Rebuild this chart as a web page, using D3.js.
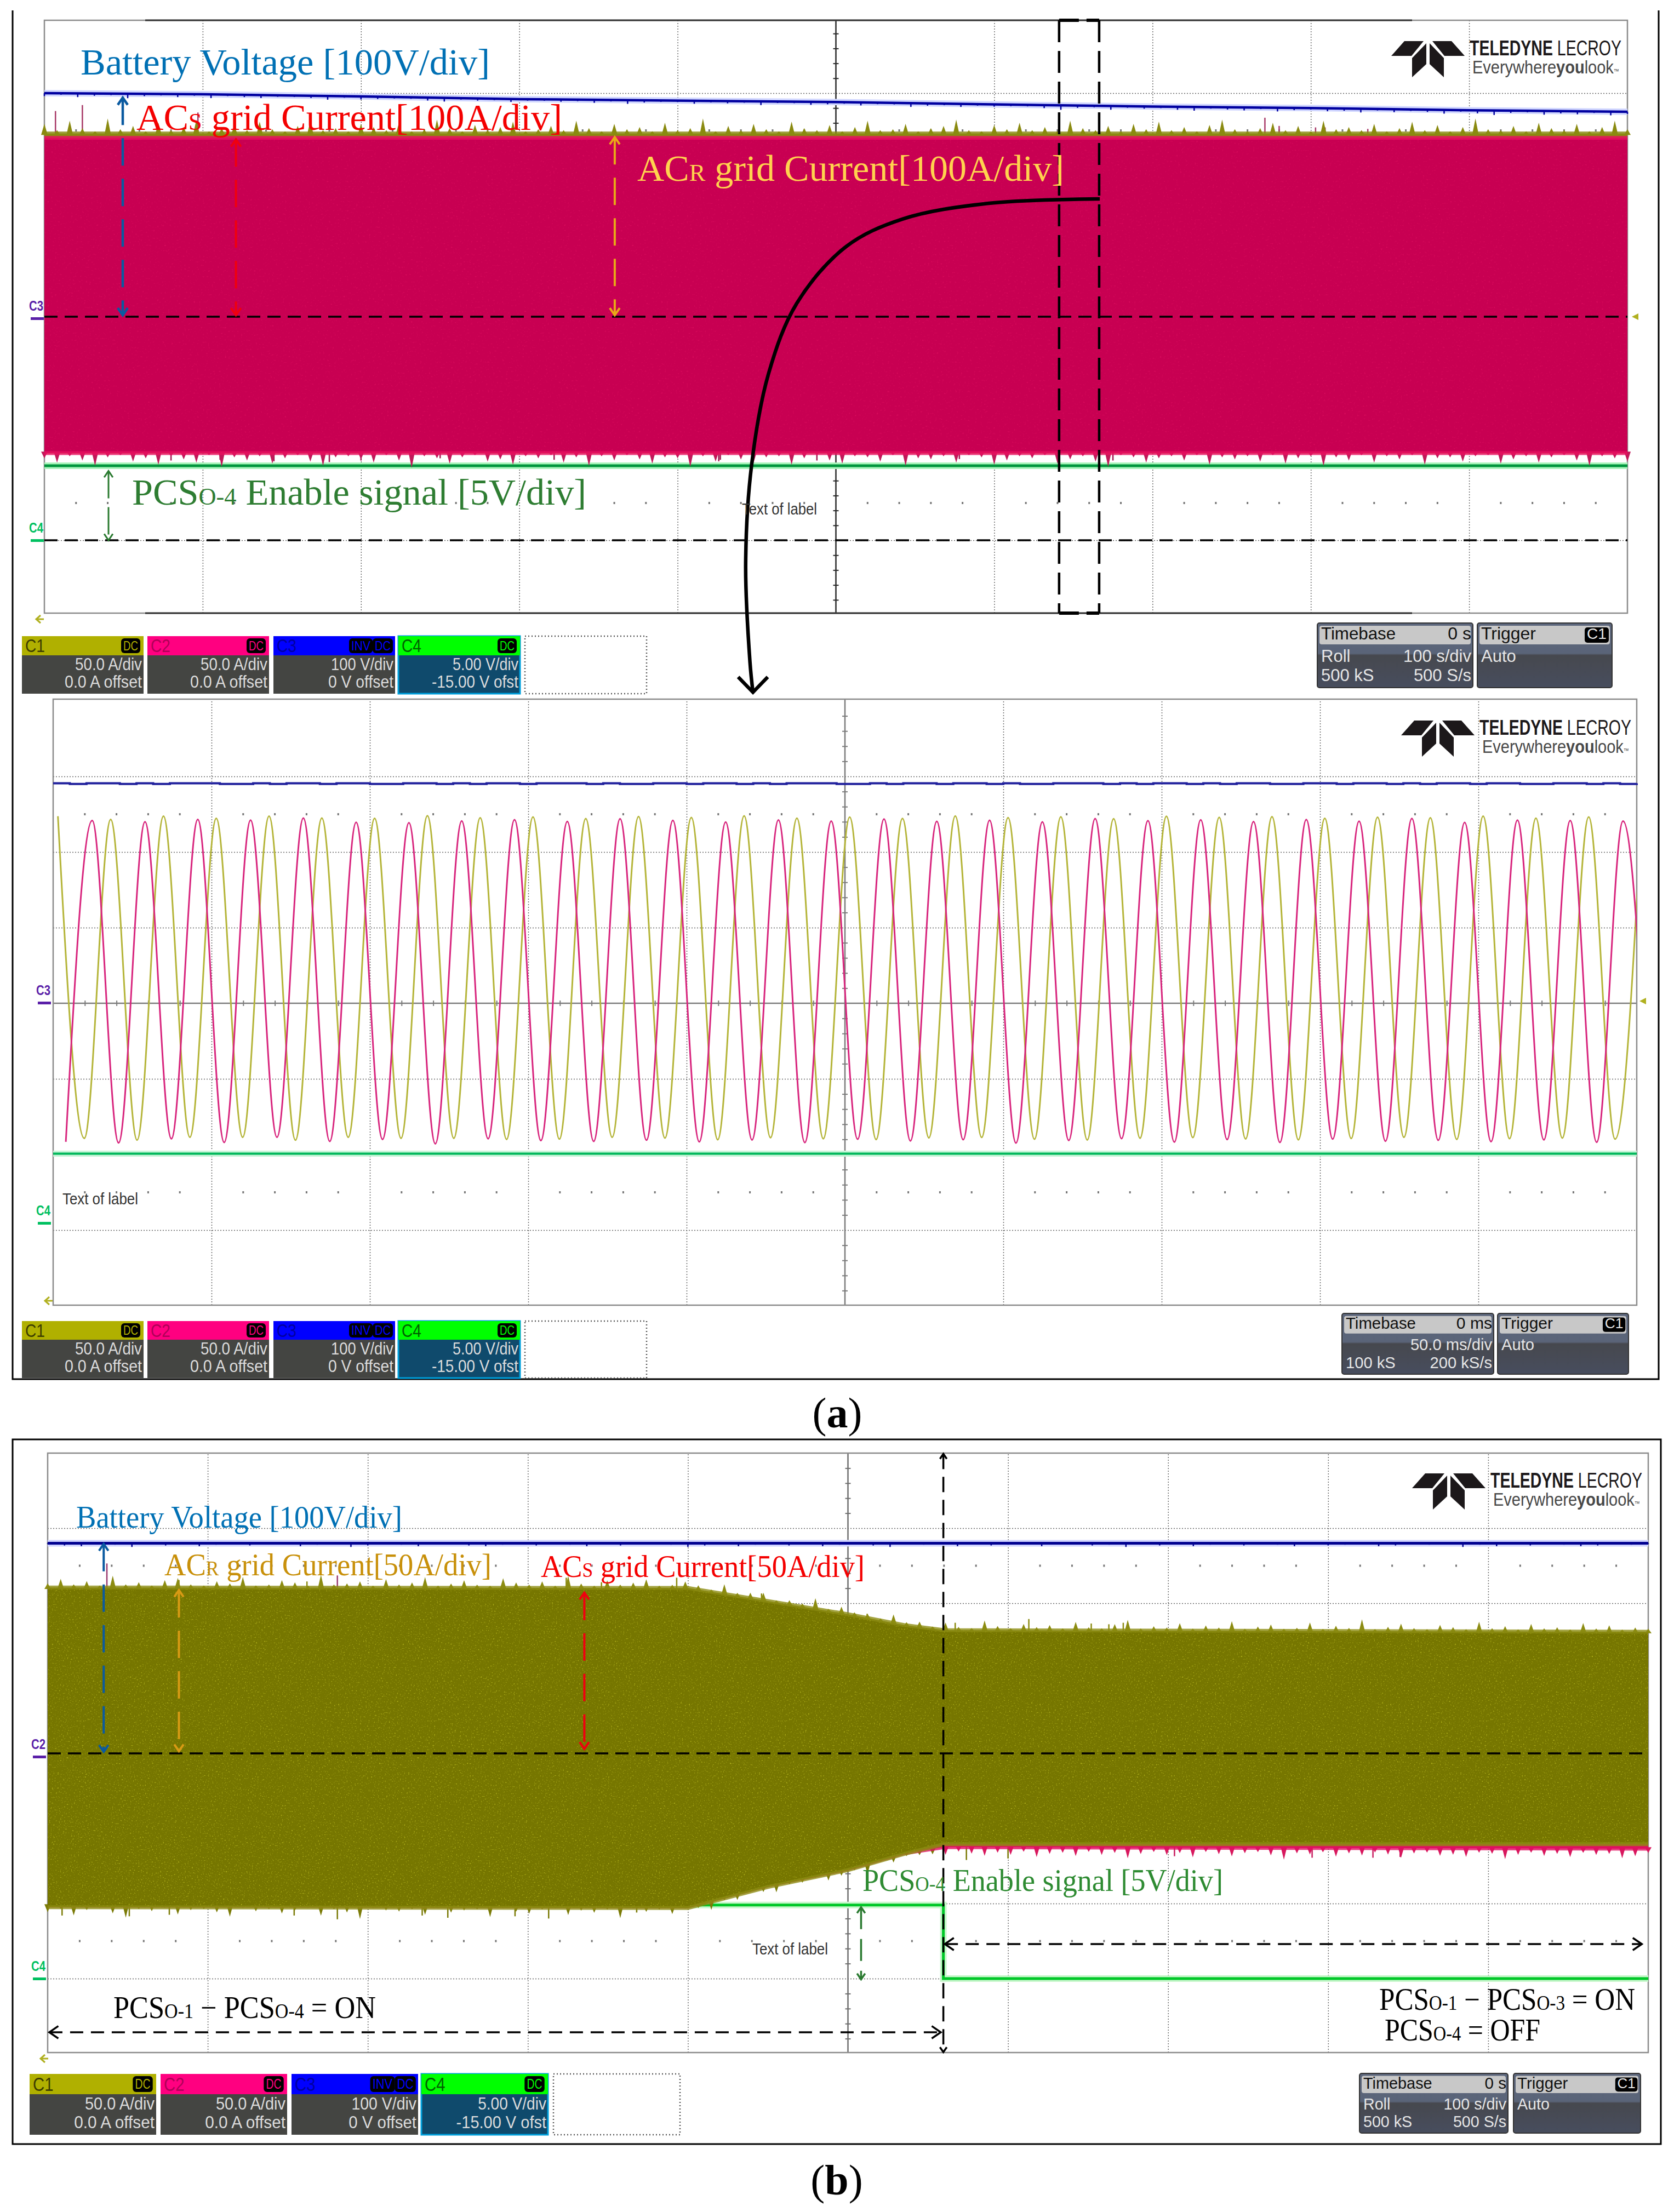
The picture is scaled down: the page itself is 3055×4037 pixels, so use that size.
<!DOCTYPE html>
<html lang="en">
<head>
<meta charset="UTF-8">
<title>Scope captures</title>
<script src="https://d3js.org/d3.v7.min.js"></script>
<style>
  html, body { margin: 0; padding: 0; background: #fff; }
  svg { display: block; }
  .grid line { stroke: #666; stroke-width: 1.5; stroke-dasharray: 2 3; }
  .grid path { display: none; }
</style>
</head>
<body>
<svg id="chart" width="3055" height="4037">
  <defs>
    <filter id="speckOlive" x="0" y="0" width="100%" height="100%" color-interpolation-filters="sRGB">
      <feTurbulence type="fractalNoise" baseFrequency="0.4" numOctaves="2" seed="3" result="n"/>
      <feColorMatrix in="n" type="matrix" values="0 0 0 0 0.68  0 0 0 0 0.68  0 0 0 0 0.1  5 0 0 0 -3.1" result="s"/>
      <feComposite in="s" in2="SourceAlpha" operator="in" result="c"/>
      <feMerge><feMergeNode in="SourceGraphic"/><feMergeNode in="c"/></feMerge>
    </filter>
    <filter id="speckPink" x="0" y="0" width="100%" height="100%" color-interpolation-filters="sRGB">
      <feTurbulence type="fractalNoise" baseFrequency="0.3" numOctaves="2" seed="5" result="n"/>
      <feColorMatrix in="n" type="matrix" values="0 0 0 0 0.88  0 0 0 0 0.06  0 0 0 0 0.38  3 0 0 0 -1.9" result="s"/>
      <feComposite in="s" in2="SourceAlpha" operator="in" result="c"/>
      <feMerge><feMergeNode in="SourceGraphic"/><feMergeNode in="c"/></feMerge>
    </filter>
  </defs>
</svg>
<script>

// (a) top capture, roll mode 100 s/div
const a1BatteryT = [-5, -4, -3, -2, 0, 1.29, 2, 3, 4, 5];
const a1BatteryLevel = [3.0, 2.985, 2.956, 2.92, 2.88, 2.84, 2.82, 2.8, 2.77, 2.75];
const a1EnvT = [-5, 5];
const a1C1High = [2.46, 2.46];
const a1C1Low = [-1.81, -1.81];
const a1C2High = [2.4, 2.4];
const a1C2Low = [-1.83, -1.83];
const a1EnableLevel = -2.0;
const a1TopSpikeT = [-4.93, -4.76, -4.03, 2.71, 2.8, 3.03, 3.09, 3.36];
const a1TopSpikeLevel = [2.76, 2.84, 2.74, 2.67, 2.56, 2.54, 2.54, 2.52];
const a1LowSpikeT = [-4.2, -3.89, -3.55, -3.2, -3, -2.5, -1.78, -0.74, -0.73, -0.12, 0.28, 0.78, 1.75];
const a1LowSpikeLevel = [-1.93, -1.92, -1.94, -1.95, -1.93, -1.9, -1.92, -1.94, -1.92, -1.93, -1.92, -1.91, -1.93];

// grass on the trace edges, hundredths of a division, evenly spaced across the screen
const a1GrassTop = [9,3,12,5,2,14,4,7,2,10,3,6,13,2,5,8,3,11,4,2,7,12,3,5,2,9,6,3,10,2,4,13,5,2,8,3,6,11,2,4,7,3,12,5,2,9,4,6,2,10,3,5,14,2,7,3,9,4,2,11,5,3,8,2,6,12,3,4,9,2,5,7,13,3,2,8,4,10,3,6,2,12,5,3,7,2,9,4,11,3,6,2,8,13,4,2,5,10,3,7,2,12,4,6,3,9,2,5,11,3,8,2,6,14,4,3,7,2,10,5,3,9,2,6,12,4];
const a1GrassLow = [5,9,3,7,12,4,2,8,5,11,3,6,9,2,13,4,7,3,10,5,2,8,12,4,3,6,9,2,7,14,3,5,10,4,2,8,6,11,3,5,2,9,4,12,3,7,2,6,10,4,5,13,3,8,2,6,9,4,3,11,5,2,7,10,3,4,8,2,12,5,6,3,9,2,4,11,7,3,5,2,10,6,3,8,13,2,4,9,5,3,7,2,11,4,6,3,8,2,10,5,3,12,4,7,2,9,3,6,2,11,5,4,8,3,2,10,6,3,9,4,2,7,12,3,5,8];
const a1BatteryNoise = [2,0,3,1,0,4,1,0,2,0,3,0,1,2,0,0,1,3,0,2,1,0,0,2,3,0,1,0,2,0,0,1,0,2,0,3,1,0,0,2,0,1,0,3,0,0,2,1,0,2,0,0,3,1,0,2,0,1,0,0,2,4,1,0,3,0,1,0,2,3,0,1,2,0,3,1,0,2,1,3,0,2,0,1,3,0,2,4,1,0,3,1,2,0,3,1];

// (a) zoomed capture, 50 ms/div. alternating extremes in A, half a mains cycle apart
const a2HalfCycleMs = 25 / 3;
const a2C1StartMs = -248.5;
const a2C2StartMs = -246;
const a2C1Levels = [123.7,-89.3,121.6,-90.5,123.7,-88.6,122.3,-88.6,123.7,-90.5,122.5,-88.6,122.3,-89.3,124,-89.3,122.6,-90,123.2,-89.8,122.1,-88.6,123.5,-89.1,122.8,-90.2,123.9,-88.9,122.4,-89.6,123.1,-90.1,122.2,-89,123.8,-88.7,122.7,-89.9,123.3,-90.4,122,-89.2,123.6,-88.8,122.9,-89.7,123.4,-90.3,122.3,-89.4,123,-88.6,122.6,-90,123.7,-89.5,122.4,-89.1,123.2,-89.8,122.8];
const a2C2Levels = [-91.6,120.8,-92.3,120,-89.6,121.6,-92,121.1,-88.6,122.5,-91.3,119.7,-90,119.4,-92.9,120.6,-89.6,121.4,-90.8,120.2,-91.3,122,-90.5,120.9,-91.6,119.8,-90.4,121.2,-92.1,120.5,-89.9,121.8,-91,120.3,-90.2,121,-92.4,119.9,-90.7,122.1,-89.5,120.7,-91.8,121.3,-90.1,120.1,-92,121.5,-89.8,120.4,-91.2,122.2,-90.6,119.6,-91.5,121.1,-90.3,120.8,-91.9,120.5,-90.6];
const a2Battery = [291,290,291,291,290,291,290,291,291,291,290,290,291,290,291,291,290,291,291,290,290,291,291,290,291,290,291,291,290,291,291,291,290,291,290,290,291,291,290,291,291,290,291,290,291,291,291,290,290,291,290,291,291,290,291,291,290,291,290,290,291,291,291,290,291,290,291,291,290,291,290,291,291,290,290,291,291,290,291,291,290,291,290,291,291,290,291,291,290,290,291,291,290,291,290,291];
const a2EnableLevel = -1.99;

// (b) capture, roll mode 100 s/div, the module drops out after t = 0.6
const bEnvT = [-5, -1, -0.5, 0, 0.35, 0.6, 5];
const bC1High = [2.21, 2.204, 2.03, 1.854, 1.71, 1.642, 1.62];
const bC1Low = [-2.05, -2.06, -1.78, -1.555, -1.34, -1.21, -1.21];
const bC2High = [2.18, 2.17, 2, 1.82, 1.68, 1.6, 1.58];
const bC2Low = [-2.03, -2.04, -1.76, -1.54, -1.33, -1.25, -1.27];
const bBatteryLevel = 2.8;
const bEnableT = [-1.03, 0.596, 0.596, 5];
const bEnableLevel = [-2.02, -2.02, -3.0, -3.0];
const bTopSpikeT = [-4.63, -3.19, -4.18, -3.38, -1.76, -1.54, -1.07, -0.54, 0.12, 0.67, 1.13, 1.52, 1.63, 1.72];
const bTopSpikeLevel = [2.53, 2.37, 2.31, 2.29, 2.34, 2.28, 2.34, 2.13, 1.86, 1.74, 1.79, 1.73, 1.72, 1.74];
const bLowSpikeT = [-4.91, -4.49, -4.24, -3.46, -3.19, -2.66, -2.5, -2.08, -1.87, -1.32, 0.74, 1.0, 2.04, 2.9, 3.28, 3.45];
const bLowSpikeLevel = [-2.16, -2.17, -2.15, -2.16, -2.21, -2.16, -2.19, -2.17, -2.2, -2.12, -1.42, -1.4, -1.37, -1.39, -1.39, -1.38];
const bGrassTop = [4,8,3,6,2,11,3,5,2,7,9,3,2,6,4,10,2,3,7,5,2,12,3,4,6,2,8,3,5,10,2,4,7,3,2,9,5,3,6,2,11,4,2,7,3,5,8,2,3,6,4,2,9,3,5,7,2,4,3,10,2,6,3,4,2,8,3,5,2,7,3,2,9,4,2,6,3,5,2,8,3,2,6,10,2,4,3,7,2,5,3,9,2,4,6,2,3,8,2,5,3,11,2,4,7,3,2,6,4,2,9,3,5,2,7,3,4,2,8,3,6,2,4,3];
const bGrassLow = [6,3,9,4,2,7,11,3,5,2,8,4,3,6,10,2,5,3,7,4,2,9,3,6,12,2,4,5,3,8,2,6,4,3,10,2,5,7,3,2,8,4,6,3,11,2,5,3,7,2,4,9,3,6,2,5,8,3,4,2,7,5,3,10,2,6,3,4,5,7,4,6,8,5,7,4,9,6,5,8,4,7,5,10,6,4,7,5,9,4,6,8,5,4,7,11,5,6,4,8,5,7,4,6,9,5,4,7,6,8,4,5,10,6,4,7,5,8,4,6,5,9,7,4];
const bBatteryNoise = [0,2,3,0,1,4,0,2,0,3,1,0,2,0,0,3,1,0,4,2,0,1,3,0,0,2,3,1,0,2,0,1,3,0,2,0,0,1,4,2,0,3,1,0,2,0,3,1,0,2,4,0,1,0,3,0,2,1,0,3,0,0,2,1,4,0,2,0,3,1,0,2,0,1,3,0,2,1,0,3,2,0,1,0,4,1,3,0,2,0,1,3,2,0,1,0];

// instrument read-outs
const chanNames = ['C1', 'C2', 'C3', 'C4'];
const chanColors = ['#b0b000', '#ff0080', '#0000ff', '#00ff00'];
const chanInk = ['#3c3c00', '#b00058', '#0000a0', '#006000'];
const chanLine1 = ['50.0 A/div', '50.0 A/div', '100 V/div', '5.00 V/div'];
const chanLine2 = ['0.0 A offset', '0.0 A offset', '0 V offset', '-15.00 V ofst'];

// ---- layout ----
const svg = d3.select('#chart');
const scopeA1 = { left: 81, right: 2970, top: 37, bottom: 1119, cy: 578, div: 136 };
const scopeA2 = { left: 97, right: 2987, top: 1276, bottom: 2382, cy: 1831, div: 138 };
const scopeB = { left: 87, right: 3008, top: 2652, bottom: 3746, cy: 3200, div: 137 };
const olive = '#767600', oliveEdge = '#8c8c12', pink = '#c80052', pinkEdge = '#e81060';
const serif = '"Liberation Serif", serif', sans = '"Liberation Sans", sans-serif';

function txt(g, x, y, parts, o) {
  const t = g.append('text').attr('x', x).attr('y', y)
    .attr('font-family', o.font || sans).attr('font-size', o.size)
    .attr('fill', o.fill || '#000').attr('text-anchor', o.anchor || 'start');
  if (o.bold) t.attr('font-weight', 'bold');
  if (o.width) t.attr('textLength', o.width).attr('lengthAdjust', 'spacingAndGlyphs');
  [].concat(parts).forEach(p => {
    if (typeof p === 'string') t.append('tspan').text(p);
    else {
      const sp = t.append('tspan').text(p[0]);
      if (p[1]) sp.attr('font-size', o.size * p[1]);
      if (p[2]) sp.attr('font-weight', p[2]);
    }
  });
  return t;
}

function arrow(g, a, b, o) {
  const w = o.w || 4, h = o.head || 14;
  g.append('line').attr('x1', a[0]).attr('y1', a[1]).attr('x2', b[0]).attr('y2', b[1])
    .attr('stroke', o.color).attr('stroke-width', w).attr('stroke-dasharray', o.dash || null);
  const ang = Math.atan2(b[1] - a[1], b[0] - a[0]);
  const head = (p, d) => {
    const v = s => [p[0] - h * Math.cos(d + s), p[1] - h * Math.sin(d + s)];
    g.append('path').attr('d', d3.line()([v(0.6), p, v(-0.6)]))
      .attr('fill', 'none').attr('stroke', o.color).attr('stroke-width', w);
  };
  if (o.start !== false) head(a, ang + Math.PI);
  if (o.end !== false) head(b, ang);
}

function drawScope(p, o) {
  const x = d3.scaleLinear().domain([-5, 5]).range([p.left, p.right]);
  const y = d3.scaleLinear().domain([0, 1]).range([p.cy, p.cy - p.div]);
  const g = svg.append('g');
  const w = p.right - p.left, h = p.bottom - p.top;
  g.append('g').attr('class', 'grid').attr('transform', `translate(0,${p.bottom})`)
    .call(d3.axisBottom(x).tickValues(d3.range(-4, 5).filter(d => d !== 0)).tickSize(-h).tickFormat(''));
  g.append('g').attr('class', 'grid').attr('transform', `translate(${p.left},0)`)
    .call(d3.axisLeft(y).tickValues([-3, -2, -1, 1, 2, 3]).tickSize(-w).tickFormat(''));
  // small graticule dots half way to the outer lines
  const dots = d3.range(-4.8, 5, 0.2).filter(d => Math.abs(d - Math.round(d)) > 0.05);
  [2.5, -2.5].forEach(level => {
    g.append('g').selectAll('rect').data(dots).join('rect')
      .attr('x', d => x(d) - 1.5).attr('y', y(level) - 2).attr('width', 3).attr('height', 4).attr('fill', '#777');
  });
  // centre cross with ticks
  const cHor = g.append('g').attr('transform', `translate(0,${p.cy - 5})`)
    .call(d3.axisBottom(x).tickValues(dots).tickSize(10).tickFormat(''));
  const cVer = g.append('g').attr('transform', `translate(${x(0) - 5},0)`)
    .call(d3.axisRight(y).tickValues(d3.range(-3.8, 4, 0.2).filter(d => Math.abs(d - Math.round(d)) > 0.05)).tickSize(10).tickFormat(''));
  [cHor, cVer].forEach(a => { a.select('.domain').remove(); a.selectAll('line').attr('stroke', o.cross).attr('stroke-width', 2); });
  g.append('line').attr('x1', p.left).attr('x2', p.right).attr('y1', p.cy).attr('y2', p.cy).attr('stroke', o.cross).attr('stroke-width', 2.5);
  g.append('line').attr('x1', x(0)).attr('x2', x(0)).attr('y1', p.top).attr('y2', p.bottom).attr('stroke', o.cross).attr('stroke-width', 2.5);
  g.append('rect').attr('x', p.left).attr('y', p.top).attr('width', w).attr('height', h)
    .attr('fill', 'none').attr('stroke', '#8c8c8c').attr('stroke-width', 2.5);
  if (o.darkFrom) {
    [p.top, p.bottom].forEach(yy => g.append('line').attr('x1', o.darkFrom).attr('x2', o.darkTo)
      .attr('y1', yy).attr('y2', yy).attr('stroke', '#333').attr('stroke-width', 3));
  }
  return { x, y, g };
}

function envelope(s, ts, hi, lo, fill, edge, filter) {
  const area = d3.area().x(d => s.x(d[0])).y1(d => s.y(d[1])).y0(d => s.y(d[2]));
  s.g.append('path').datum(ts.map((t, i) => [t, hi[i], lo[i]])).attr('d', area)
    .attr('fill', fill).attr('filter', filter ? `url(#${filter})` : null);
  const line = d3.line().x(d => s.x(d[0])).y(d => s.y(d[1]));
  [hi, lo].forEach(level => {
    s.g.append('path').attr('d', line(ts.map((t, i) => [t, level[i]]))).attr('fill', 'none')
      .attr('stroke', edge).attr('stroke-width', 7).attr('opacity', 0.8);
  });
}

// each value is one small blade standing on the trace edge
function grass(s, ts, base, list, sign, color) {
  const at = d3.scalePoint().domain(d3.range(list.length)).range([-5, 5]);
  const level = d3.scaleLinear().domain(ts).range(base);
  s.g.append('g').selectAll('path').data(list).join('path')
    .attr('d', (d, i) => {
      const t = at(i), px = s.x(t), b = s.y(level(t) - sign * 0.02), tip = s.y(level(t) + sign * d / 70);
      return d3.line()([[px - 6, b], [px, tip], [px + 6, b]]) + 'Z';
    })
    .attr('fill', (d, i) => typeof color === 'function' ? color(at(i)) : color);
}

function spikes(s, ts, base, sT, sLevel, color) {
  const level = d3.scaleLinear().domain(ts).range(base);
  s.g.append('g').selectAll('line').data(sT).join('line')
    .attr('x1', d => s.x(d)).attr('x2', d => s.x(d))
    .attr('y1', d => s.y(level(d))).attr('y2', (d, i) => s.y(sLevel[i]))
    .attr('stroke', typeof color === 'string' ? color : (d => color(d))).attr('stroke-width', 2.5);
}

function trace(s, points, curve, color, width, halo) {
  const line = d3.line().x(d => s.x(d[0])).y(d => s.y(d[1])).curve(curve);
  if (halo) s.g.append('path').attr('d', line(points)).attr('fill', 'none').attr('stroke', halo).attr('stroke-width', width + 7);
  s.g.append('path').attr('d', line(points)).attr('fill', 'none').attr('stroke', color).attr('stroke-width', width);
}

function channelBoxes(xs, w, top, headH, h) {
  const g = svg.append('g');
  const k = w / 222;
  chanNames.forEach((name, i) => {
    const bx = xs[i];
    const isActive = i === 3;
    g.append('rect').attr('x', bx).attr('y', top).attr('width', w).attr('height', h)
      .attr('fill', isActive ? '#0f4a6c' : '#444542');
    if (isActive) g.append('rect').attr('x', bx).attr('y', top).attr('width', w).attr('height', h)
      .attr('fill', 'none').attr('stroke', '#00a0dc').attr('stroke-width', 3);
    g.append('rect').attr('x', bx).attr('y', top).attr('width', w).attr('height', headH).attr('fill', chanColors[i]);
    txt(g, bx + 6, top + headH * 0.84, name, { size: 34 * k, fill: chanInk[i], width: 36 * k });
    const badges = i === 2 ? [['INV', 84, 43], ['DC', 41, 37]] : [['DC', 41, 35]];
    badges.forEach(b => {
      g.append('rect').attr('x', bx + w - b[1] * k).attr('y', top + 4).attr('width', b[2] * k).attr('height', headH - 8)
        .attr('rx', 6).attr('fill', '#000');
      txt(g, bx + w - (b[1] - b[2] / 2) * k, top + headH * 0.74, b[0], { size: 24 * k, fill: chanColors[i], anchor: 'middle', width: (b[2] - 8) * k });
    });
    txt(g, bx + w - 3, top + h * 0.59, chanLine1[i], { size: 31 * k, fill: '#dcdcdc', anchor: 'end', width: [122, 122, 114, 120][i] * k });
    txt(g, bx + w - 3, top + h * 0.895, chanLine2[i], { size: 31 * k, fill: '#dcdcdc', anchor: 'end', width: [141, 141, 119, 158][i] * k });
  });
  // empty slot
  g.append('rect').attr('x', xs[4]).attr('y', top).attr('width', w).attr('height', h)
    .attr('fill', 'none').attr('stroke', '#555').attr('stroke-width', 2.5).attr('stroke-dasharray', '2 4');
}

let boxId = 0;
function timebaseBoxes(x0, tw, x1, trw, top, h, rows) {
  const g = svg.append('g');
  const k = h / 118;
  const id = 'tb' + (boxId++);
  const grad = svg.append('linearGradient').attr('id', id).attr('x1', 0).attr('x2', 0).attr('y1', 0).attr('y2', 1);
  [[0, '#5c667c'], [0.47, '#5a6478'], [0.5, '#46484e'], [1, '#474d5e']].forEach(s => grad.append('stop').attr('offset', s[0]).attr('stop-color', s[1]));
  [[x0, tw], [x1, trw]].forEach(b => {
    g.append('rect').attr('x', b[0]).attr('y', top).attr('width', b[1]).attr('height', h).attr('rx', 4).attr('fill', `url(#${id})`).attr('stroke', '#333').attr('stroke-width', 2);
    g.append('rect').attr('x', b[0] + 4).attr('y', top + 5 * k).attr('width', b[1] - 8).attr('height', 34 * k).attr('rx', 4).attr('fill', '#c8c8c8');
  });
  const hy = top + 30 * k, r1 = top + 71 * k, r2 = top + 106 * k, o = { size: 31 * k, fill: '#e6e6e6' };
  txt(g, x0 + 7, hy, 'Timebase', { size: 32 * k, fill: '#111', width: 136 * k });
  txt(g, x0 + tw - 3, hy, rows[0], { size: 32 * k, fill: '#111', anchor: 'end' });
  txt(g, x0 + 7, r1, rows[1], o);
  txt(g, x0 + tw - 3, r1, rows[2], { ...o, anchor: 'end' });
  txt(g, x0 + 7, r2, rows[3], o);
  txt(g, x0 + tw - 3, r2, rows[4], { ...o, anchor: 'end' });
  txt(g, x1 + 7, hy, 'Trigger', { size: 32 * k, fill: '#111', width: 100 * k });
  g.append('rect').attr('x', x1 + trw - 50 * k).attr('y', top + 8 * k).attr('width', 44 * k).attr('height', 28 * k).attr('rx', 5).attr('fill', '#000');
  txt(g, x1 + trw - 28 * k, hy - 1, 'C1', { size: 28 * k, fill: '#e6e6e6', anchor: 'middle' });
  txt(g, x1 + 7, r1, 'Auto', o);
}

function logo(px, py) {
  const g = svg.append('g').attr('transform', `translate(${px},${py})`);
  const shapes = [
    [[24, 2], [59, 2], [37, 29], [0, 29]],
    [[75, 2], [110, 2], [134, 29], [97, 29]],
    [[64, 6], [64, 44], [38, 68], [38, 33]],
    [[70, 6], [70, 44], [96, 68], [96, 33]]
  ];
  g.selectAll('path').data(shapes).join('path')
    .attr('d', d => d3.line()(d) + 'Z').attr('fill', '#1c181a');
  txt(g, 143, 28, [['TELEDYNE', 0, 'bold'], ' LECROY'], { size: 38, fill: '#1c181a', width: 277 });
  txt(g, 148, 61, ['Everywhere', ['you', 0, 'bold'], 'look', ['™', 0.35]], { size: 33, fill: '#484848', width: 268 });
}

function sideTag(x, y, name, color) {
  const g = svg.append('g');
  txt(g, x, y, name, { size: 25, bold: true, fill: color, width: 26 });
  g.append('rect').attr('x', x + 3).attr('y', y + 12).attr('width', 24).attr('height', 5).attr('fill', color);
}

function trigArrow(x, y) {
  svg.append('path').attr('d', d3.line()([[x + 8, y - 7], [x, y], [x + 8, y + 7]]))
    .attr('fill', 'none').attr('stroke', '#b0b020').attr('stroke-width', 3);
  svg.append('line').attr('x1', x).attr('x2', x + 14).attr('y1', y).attr('y2', y).attr('stroke', '#b0b020').attr('stroke-width', 3);
}

function trigLevel(x, y) {
  svg.append('path').attr('d', d3.line()([[x, y], [x + 12, y - 6], [x + 12, y + 6]]) + 'Z').attr('fill', '#b0b020');
}

// ---- outer frames ----
svg.append('path').attr('d', d3.line()([[23, 19], [23, 2517], [3027, 2517], [3027, 19]]))
  .attr('fill', 'none').attr('stroke', '#000').attr('stroke-width', 3);
svg.append('rect').attr('x', 23).attr('y', 2627).attr('width', 3008).attr('height', 1286)
  .attr('fill', 'none').attr('stroke', '#000').attr('stroke-width', 3);

// ---- (a) top capture ----
const s1 = drawScope(scopeA1, { cross: '#2a2a2a', darkFrom: 265, darkTo: 2577 });
trace(s1, a1BatteryT.map((t, i) => [t, a1BatteryLevel[i]]), d3.curveLinear, '#0000a0', 4.5, '#d0d6ff');
const noise1 = d3.scalePoint().domain(d3.range(a1BatteryNoise.length)).range([-5, 5]);
const batt1 = d3.scaleLinear().domain(a1BatteryT).range(a1BatteryLevel);
s1.g.append('g').selectAll('line').data(a1BatteryNoise).join('line')
  .attr('x1', (d, i) => s1.x(noise1(i))).attr('x2', (d, i) => s1.x(noise1(i)))
  .attr('y1', (d, i) => s1.y(batt1(noise1(i)))).attr('y2', (d, i) => s1.y(batt1(noise1(i)) - d / 100 - 0.02))
  .attr('stroke', '#0000a0').attr('stroke-width', 2.5);
trace(s1, [[-5, a1EnableLevel], [5, a1EnableLevel]], d3.curveLinear, '#00963c', 5, '#aaf5bc');
spikes(s1, a1EnvT, a1C1High, a1TopSpikeT, a1TopSpikeLevel, '#a83a68');
grass(s1, a1EnvT, a1C1High, a1GrassTop, 1, '#8a8a10');
envelope(s1, a1EnvT, a1C1High, a1C1Low, '#8a8a10', '#8a8a10');
spikes(s1, a1EnvT, a1C2Low, a1LowSpikeT, a1LowSpikeLevel, '#a01850');
grass(s1, a1EnvT, a1C2Low, a1GrassLow, -1, '#c01858');
envelope(s1, a1EnvT, a1C2High, a1C2Low, pink, pinkEdge, 'speckPink');

const ga = svg.append('g');
[0, -3].forEach(level => ga.append('line').attr('x1', s1.x(-5)).attr('x2', s1.x(5)).attr('y1', s1.y(level)).attr('y2', s1.y(level))
  .attr('stroke', '#000').attr('stroke-width', 3.5).attr('stroke-dasharray', '24 13'));
arrow(ga, [s1.x(-4.505), s1.y(2.94)], [s1.x(-4.505), s1.y(0.02)], { color: '#0a5aa0', w: 4.5, dash: '50 24', head: 16 });
arrow(ga, [s1.x(-3.79), s1.y(2.38)], [s1.x(-3.79), s1.y(0.02)], { color: '#f0000f', w: 4, dash: '50 24', head: 16 });
arrow(ga, [s1.x(-1.397), s1.y(2.41)], [s1.x(-1.397), s1.y(0.02)], { color: '#e8a818', w: 4, dash: '50 24', head: 16 });
arrow(ga, [s1.x(-4.595), s1.y(-2.07)], [s1.x(-4.595), s1.y(-3.0)], { color: '#2a7a30', w: 3, dash: '50 16', head: 14 });
// zoom window and the curved pointer to the lower capture
[1.41, 1.663].forEach(t => ga.append('line').attr('x1', s1.x(t)).attr('x2', s1.x(t)).attr('y1', scopeA1.top).attr('y2', scopeA1.bottom)
  .attr('stroke', '#000').attr('stroke-width', 4.5).attr('stroke-dasharray', '40 16'));
[scopeA1.top, scopeA1.bottom].forEach(yy => ga.append('line').attr('x1', s1.x(1.41)).attr('x2', s1.x(1.663)).attr('y1', yy).attr('y2', yy)
  .attr('stroke', '#000').attr('stroke-width', 6).attr('stroke-dasharray', '36 14'));
const pointerT = [1.667, 0.958, 0.42, 0.064, -0.247, -0.425, -0.532, -0.57, -0.543, -0.524];
const pointerLevel = [1.58, 1.52, 1.31, 0.94, 0.18, -0.76, -1.98, -3.31, -4.63, -5.04];
ga.append('path').attr('d', d3.line().x(d => s1.x(d[0])).y(d => s1.y(d[1])).curve(d3.curveCatmullRom)(pointerT.map((t, i) => [t, pointerLevel[i]])))
  .attr('fill', 'none').attr('stroke', '#000').attr('stroke-width', 6.5);
ga.append('path').attr('d', d3.line()([[s1.x(-0.524) - 27, s1.y(-5.04) - 28], [s1.x(-0.524), s1.y(-5.04)], [s1.x(-0.524) + 27, s1.y(-5.04) - 28]]))
  .attr('fill', 'none').attr('stroke', '#000').attr('stroke-width', 6.5);

const lab = { font: serif, size: 68 };
txt(ga, 147, 136, 'Battery Voltage [100V/div]', { ...lab, fill: '#0070b4', width: 747 });
txt(ga, 249, 237, ['AC', ['S', 0.65], ' grid Current[100A/div]'], { ...lab, fill: '#f40000', width: 777 });
txt(ga, 1163, 330, ['AC', ['R', 0.65], ' grid Current[100A/div]'], { ...lab, fill: '#ffd24e', width: 779 });
txt(ga, 241, 921, ['PCS', ['O-4', 0.65], ' Enable signal [5V/div]'], { ...lab, fill: '#2e7d32', width: 829 });
txt(ga, 1354, 939, 'Text of label', { size: 30, fill: '#333', width: 137 });
sideTag(53, 567, 'C3', '#5a1fa8');
sideTag(53, 972, 'C4', '#00c060');
trigArrow(66, 1130);
trigLevel(2978, 578);
logo(2539, 73);
channelBoxes([40, 269, 499, 727, 958], 222, 1161, 35, 105);
timebaseBoxes(2404, 284, 2696, 246, 1137, 118, ['0 s', 'Roll', '100 s/div', '500 kS', '500 S/s']);

// ---- (a) zoomed capture ----
const s2 = drawScope(scopeA2, { cross: '#7c7c7c' });
const ms = d3.scaleLinear().domain([-250, 250]).range([-5, 5]);
const amps = v => v / 50;
const battAt = d3.scalePoint().domain(d3.range(a2Battery.length)).range([-5, 5]);
trace(s2, a2Battery.map((v, i) => [battAt(i), v / 100]), d3.curveStepAfter, '#20209c', 4);
trace(s2, [[-5, a2EnableLevel], [5, a2EnableLevel]], d3.curveLinear, '#00b85a', 4, '#c8f5d8');
s2.g.append('clipPath').attr('id', 'a2clip').append('rect').attr('x', scopeA2.left).attr('y', scopeA2.top)
  .attr('width', scopeA2.right - scopeA2.left).attr('height', scopeA2.bottom - scopeA2.top);
const waveLine = d3.line().x(d => s2.x(d[0])).y(d => s2.y(d[1])).curve(d3.curveMonotoneX);
[[a2C1Levels, a2C1StartMs, '#b5b53a'], [a2C2Levels, a2C2StartMs, '#d8267e']].forEach(c => {
  const pts = c[0].map((v, i) => [ms(c[1] + i * a2HalfCycleMs), amps(v)]);
  s2.g.append('path').attr('d', waveLine(pts)).attr('clip-path', 'url(#a2clip)')
    .attr('fill', 'none').attr('stroke', c[2]).attr('stroke-width', 3);
});
const ga2 = svg.append('g');
txt(ga2, 114, 2198, 'Text of label', { size: 30, fill: '#333', width: 138 });
sideTag(66, 1816, 'C3', '#5a1fa8');
sideTag(66, 2218, 'C4', '#00c060');
trigArrow(82, 2374);
trigLevel(2992, 1827);
logo(2557, 1313);
channelBoxes([40, 269, 499, 727, 958], 222, 2411, 34, 104);
timebaseBoxes(2449, 277, 2733, 239, 2397, 111, ['0 ms', '', '50.0 ms/div', '100 kS', '200 kS/s']);
txt(svg, 1528, 2605, ['(', ['a', 0, 'bold'], ')'], { font: serif, size: 78, fill: '#000', anchor: 'middle' });

// ---- (b) capture ----
const s3 = drawScope(scopeB, { cross: '#6e6e6e' });
trace(s3, [[-5, bBatteryLevel], [5, bBatteryLevel]], d3.curveLinear, '#000090', 5, '#d0d4ff');
const noise3 = d3.scalePoint().domain(d3.range(bBatteryNoise.length)).range([-5, 5]);
s3.g.append('g').selectAll('line').data(bBatteryNoise).join('line')
  .attr('x1', (d, i) => s3.x(noise3(i))).attr('x2', (d, i) => s3.x(noise3(i)))
  .attr('y1', s3.y(bBatteryLevel)).attr('y2', d => s3.y(bBatteryLevel - d / 100 - 0.01))
  .attr('stroke', '#000090').attr('stroke-width', 2.5);
trace(s3, bEnableT.map((t, i) => [t, bEnableLevel[i]]), d3.curveLinear, '#00c828', 5, '#c8f7cc');
const lowColor = t => t > 0.6 ? '#d8185e' : '#7a7a06';
spikes(s3, bEnvT, bC1High, bTopSpikeT, bTopSpikeLevel, t => t < -4.6 || t === -3.19 ? '#9a3a70' : '#8a8a10');
spikes(s3, bEnvT, bC2Low, bLowSpikeT, bLowSpikeLevel, t => t > 1.5 ? '#c81e60' : '#7a7a06');
grass(s3, bEnvT, bC1High, bGrassTop, 1, '#8c8c12');
grass(s3, bEnvT, bC2Low, bGrassLow, -1, lowColor);
envelope(s3, bEnvT, bC2High, bC2Low, '#e01060', '#e01060');
envelope(s3, bEnvT, bC1High, bC1Low, olive, oliveEdge, 'speckOlive');

const gb = svg.append('g');
gb.append('line').attr('x1', s3.x(-5)).attr('x2', s3.x(5)).attr('y1', s3.y(0)).attr('y2', s3.y(0))
  .attr('stroke', '#000').attr('stroke-width', 3.5).attr('stroke-dasharray', '24 13');
arrow(gb, [s3.x(0.596), s3.y(3.99)], [s3.x(0.596), s3.y(-3.98)], { color: '#000', w: 3.5, dash: '28 14', head: 11 });
arrow(gb, [s3.x(-4.65), s3.y(2.79)], [s3.x(-4.65), s3.y(0.02)], { color: '#0a5aa0', w: 4, dash: '50 24', head: 15 });
arrow(gb, [s3.x(-4.18), s3.y(2.175)], [s3.x(-4.18), s3.y(0.03)], { color: '#d89a14', w: 4, dash: '50 24', head: 15 });
arrow(gb, [s3.x(-1.647), s3.y(2.14)], [s3.x(-1.647), s3.y(0.06)], { color: '#f0000f', w: 4, dash: '50 24', head: 15 });
arrow(gb, [s3.x(0.082), s3.y(-2.05)], [s3.x(0.082), s3.y(-3.01)], { color: '#2a7a30', w: 3.5, dash: '40 18', head: 13 });
arrow(gb, [s3.x(-4.99), s3.y(-3.715)], [s3.x(0.58), s3.y(-3.715)], { color: '#000', w: 3.5, dash: '24 14', head: 20 });
arrow(gb, [s3.x(0.605), s3.y(-2.54)], [s3.x(4.96), s3.y(-2.54)], { color: '#000', w: 3.5, dash: '24 14', head: 20 });

const labB = { font: serif, size: 57 };
txt(gb, 139, 2788, 'Battery Voltage [100V/div]', { ...labB, fill: '#0070b4', width: 595 });
txt(gb, 300, 2875, ['AC', ['R', 0.65], ' grid Current[50A/div]'], { ...labB, fill: '#c8900a', width: 597 });
txt(gb, 987, 2878, ['AC', ['S', 0.65], ' grid Current[50A/div]'], { ...labB, fill: '#f40000', width: 591 });
txt(gb, 1574, 3451, ['PCS', ['O-4', 0.65], ' Enable signal [5V/div]'], { ...labB, fill: '#2e8b32', width: 658 });
txt(gb, 1373, 3567, 'Text of label', { size: 30, fill: '#333', width: 138 });
txt(gb, 207, 3683, ['PCS', ['O-1', 0.65], ' − PCS', ['O-4', 0.65], ' = ON'], { ...labB, width: 479 });
txt(gb, 2517, 3668, ['PCS', ['O-1', 0.65], ' − PCS', ['O-3', 0.65], ' = ON'], { ...labB, width: 467 });
txt(gb, 2527, 3724, ['PCS', ['O-4', 0.65], ' = OFF'], { ...labB, width: 284 });
sideTag(57, 3192, 'C2', '#5a1fa8');
sideTag(57, 3597, 'C4', '#00c060');
trigArrow(74, 3757);
logo(2577, 2687);
channelBoxes([54, 293, 532, 769, 1010], 231, 3785, 37, 111);
timebaseBoxes(2481, 271, 2762, 232, 3784, 109, ['0 s', 'Roll', '100 s/div', '500 kS', '500 S/s']);
txt(svg, 1527, 4005, ['(', ['b', 0, 'bold'], ')'], { font: serif, size: 78, fill: '#000', anchor: 'middle' });
</script>
</body>
</html>
